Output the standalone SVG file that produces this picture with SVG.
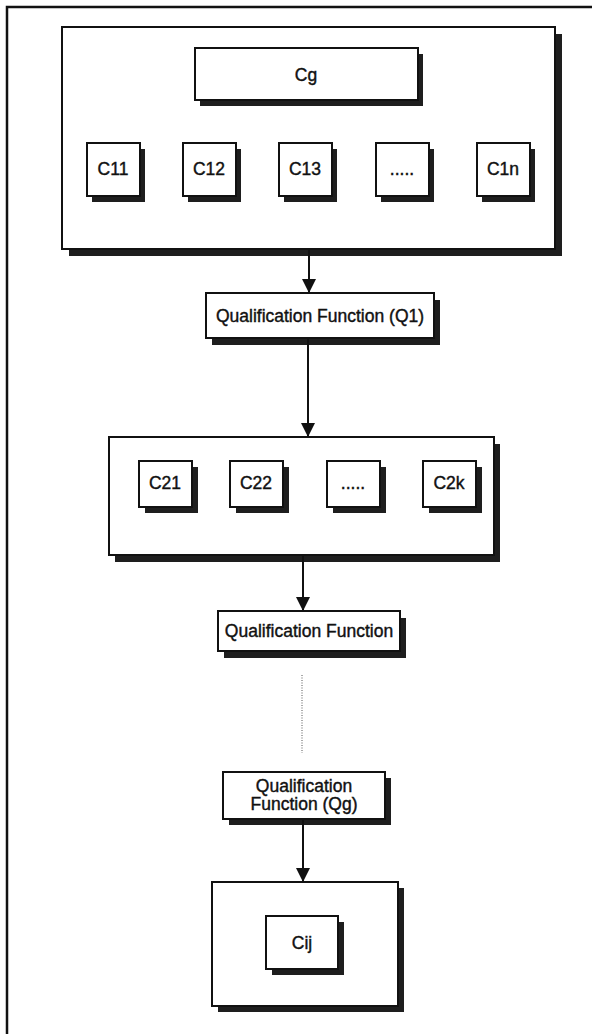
<svg xmlns="http://www.w3.org/2000/svg" width="592" height="1034" viewBox="0 0 592 1034">
<style>
.bx{fill:#fff;stroke:#111;stroke-width:2}
.sh{fill:#1e1e1e}
.t{font-family:"Liberation Sans",Arial,sans-serif;font-size:17.5px;fill:#111;stroke:#111;stroke-width:0.4;text-anchor:middle}
.ln{stroke:#111;stroke-width:2;fill:none}
</style>
<defs>
<marker id="ah" markerUnits="userSpaceOnUse" markerWidth="16" markerHeight="16" viewBox="0 0 16 16" refX="15" refY="8" orient="auto">
<path d="M1,1 L15,8 L1,15 Z" fill="#111"/>
</marker>
</defs>
<rect width="592" height="1034" fill="#fff"/>
<path d="M7,1034 V7 H592" fill="none" stroke="#111" stroke-width="2.5"/>

<g id="group1">
<rect class="sh" x="69" y="34" width="493" height="222"/>
<rect class="bx" x="62" y="27" width="493" height="222"/>
</g>
<g id="Cg">
<rect class="sh" x="200" y="54" width="223" height="52"/>
<rect class="bx" x="195" y="48" width="223" height="52"/>
<text class="t" x="306" y="81">Cg</text>
</g>
<g id="C11">
<rect class="sh" x="92" y="149" width="53" height="53"/>
<rect class="bx" x="87" y="143" width="53" height="53"/>
<text class="t" x="113" y="175">C11</text>
</g>
<g id="C12">
<rect class="sh" x="188" y="149" width="53" height="53"/>
<rect class="bx" x="183" y="143" width="53" height="53"/>
<text class="t" x="209" y="175">C12</text>
</g>
<g id="C13">
<rect class="sh" x="284" y="149" width="53" height="53"/>
<rect class="bx" x="279" y="143" width="53" height="53"/>
<text class="t" x="305" y="175">C13</text>
</g>
<g id="C1dots">
<rect class="sh" x="381" y="149" width="53" height="53"/>
<rect class="bx" x="376" y="143" width="53" height="53"/>
<text class="t" x="402" y="175">.....</text>
</g>
<g id="C1n">
<rect class="sh" x="482" y="149" width="53" height="53"/>
<rect class="bx" x="477" y="143" width="53" height="53"/>
<text class="t" x="503" y="175">C1n</text>
</g>

<g id="Q1">
<rect class="sh" x="212" y="300" width="228" height="45"/>
<rect class="bx" x="206" y="293" width="228" height="45"/>
<text class="t" x="320" y="322">Qualification Function (Q1)</text>
</g>

<g id="group2">
<rect class="sh" x="115" y="444" width="385" height="118"/>
<rect class="bx" x="109" y="437" width="385" height="118"/>
</g>
<g id="C21">
<rect class="sh" x="145" y="467" width="53" height="46"/>
<rect class="bx" x="139" y="461" width="53" height="46"/>
<text class="t" x="165" y="489">C21</text>
</g>
<g id="C22">
<rect class="sh" x="236" y="467" width="53" height="46"/>
<rect class="bx" x="230" y="461" width="53" height="46"/>
<text class="t" x="256" y="489">C22</text>
</g>
<g id="C2dots">
<rect class="sh" x="333" y="467" width="53" height="46"/>
<rect class="bx" x="327" y="461" width="53" height="46"/>
<text class="t" x="353" y="489">.....</text>
</g>
<g id="C2k">
<rect class="sh" x="429" y="467" width="53" height="46"/>
<rect class="bx" x="423" y="461" width="53" height="46"/>
<text class="t" x="449" y="489">C2k</text>
</g>

<g id="Q2">
<rect class="sh" x="224" y="618" width="182" height="40"/>
<rect class="bx" x="218" y="611" width="182" height="40"/>
<text class="t" x="309" y="637">Qualification Function</text>
</g>

<g id="Qg">
<rect class="sh" x="229" y="778" width="162" height="47"/>
<rect class="bx" x="223" y="772" width="162" height="47"/>
<text class="t" x="304" y="792">Qualification</text>
<text class="t" x="304" y="810">Function (Qg)</text>
</g>

<g id="group3">
<rect class="sh" x="218" y="888" width="186" height="124"/>
<rect class="bx" x="212" y="882" width="186" height="124"/>
</g>
<g id="Cij">
<rect class="sh" x="272" y="922" width="72" height="53"/>
<rect class="bx" x="266" y="916" width="72" height="53"/>
<text class="t" x="302" y="949">Cij</text>
</g>

<g id="connectors">
<line class="ln" x1="309" y1="249" x2="309" y2="293" marker-end="url(#ah)"/>
<line class="ln" x1="308" y1="338" x2="308" y2="437" marker-end="url(#ah)"/>
<line class="ln" x1="303" y1="555" x2="303" y2="611" marker-end="url(#ah)"/>
<line x1="302" y1="675" x2="302" y2="753" stroke="#555" stroke-width="1" stroke-dasharray="1,1.5"/>
<line class="ln" x1="303" y1="819" x2="303" y2="882" marker-end="url(#ah)"/>
</g>
</svg>
